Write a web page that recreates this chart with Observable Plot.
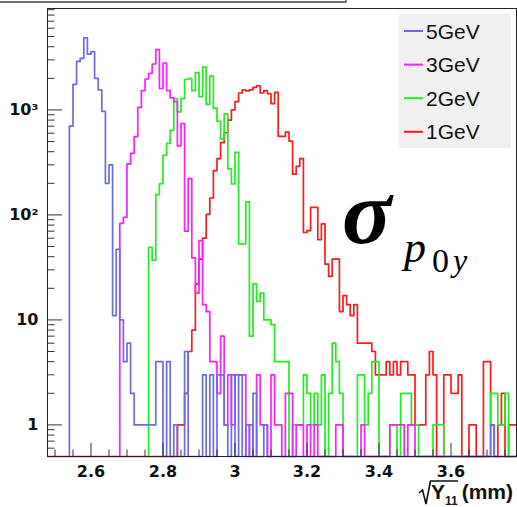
<!DOCTYPE html>
<html><head><meta charset="utf-8">
<script src="https://cdn.jsdelivr.net/npm/d3@7"></script>
<script src="https://cdn.jsdelivr.net/npm/@observablehq/plot@0.6"></script>
<style>body{margin:0;background:#fff}#chart{width:517px;height:507px}</style>
</head><body><div id="chart"></div>
<script>
// histogram binning (sqrt(Y11) in mm)
const binStart = 2.48, binWidth = 0.01, nBins = 130;
const xDomain = [2.4792, 3.7819];
const yDomain = [0.5, 9250];

const seriesNames = ["5GeV", "3GeV", "2GeV", "1GeV"];
const seriesColors = ["#6b6bea", "#ff1eff", "#1ef01e", "#ff1a1a"];

// 5GeV (first bin index 6)
const blueFirstBin = 6;
const blueCounts = [700,1750,2900,3100,4850,3400,3600,2000,1550,970,200,300,11,47,10,4,6,2,1,1,1,1,1,1,4,4,0,4,0,1,0,0,5,0,0,0,0,3,0,3,0,3,3,1,0,3,0,3,0,1,0,2,0,0,1,
 0,0,0,0,0,0,0,0,0,0,0,0,0,0,0,0,0,0,0,0,0,0,0,0,0,0,0,0,0,0,0,0,0,0,0,0,0,0,0,0,0,0,0,0,0,0,0,0,0,0,0,0,0,0,0,0,0,0,0,0,0,0,1];
// 3GeV (first bin index 20)
const magentaFirstBin = 20;
const magentaCounts = [83,95,306,386,557,1060,1530,1970,2230,2740,3750,1600,2800,1530,1300,1200,455,740,70,222,39,18,57,14,12,4,4,2,7,1,3,1,3,3,3,0,1,0,3,1,1,0,3,1,1,0,2,2,0,1,1,0,1,0,1,0,0,0,0,0,1,1,0,0,0,0,0,1,0,0,0,0,0,0,0,1,1,1,1,0,1,1];
// 2GeV (first bin index 28)
const greenFirstBin = 28;
const greenCounts = [49,37,156,198,370,480,640,1280,960,1280,1950,1990,1530,2270,1340,2560,1130,2100,1040,780,530,920,275,197,395,53,53,133,7,22,15,18,10,10,9,4,4,4,4,0,1,1,1,3,2,1,2,1,3,0,2,6,4,2,0,0,0,0,3,3,1,2,4,4,0,0,0,1,1,0,2,2,2,1,1,0,0,0,0,1,1,1,0,0,0,0,0,0,0,0,0,0,0,0,0,2,2,1,1,2];
// 1GeV (first bin index 36)
const redFirstBin = 36;
const redCounts = [1,1,2,5,8,22,38,60,101,145,264,344,488,606,800,1000,1200,1450,1550,1520,1550,1640,1700,1450,1530,1430,1150,1470,560,560,615,505,245,290,344,68,71,118,118,58,82,34,26,38,38,12,17,14,11,14,6,6,6,6,5,3,3,3,4,3,4,3,4,4,3,3,1,1,1,3,5,3,0,0,3,3,2,2,3,0,0,1,1,0,0,4,4,1,0,1,2,0,1,1];

const xMajorTicks = [2.6, 2.8, 3.0, 3.2, 3.4, 3.6];
const xMinorTicks = d3.range(2.5, 3.7801, 0.05).map(v => +v.toFixed(2)).filter(v => !xMajorTicks.some(m => Math.abs(m - v) < 1e-6));
const yMajorTicks = [1, 10, 100, 1000];
const yTickLabels = ["1", "10", "10\u00B2", "10\u00B3"];
const yMinorTicks = [0.6,0.7,0.8,0.9,2,3,4,5,6,7,8,9,20,30,40,50,60,70,80,90,200,300,400,500,600,700,800,900,2000,3000,4000,5000,6000,7000,8000,9000];

function histRows(first, counts, startAtZero) {
  const rows = [];
  const startBin = startAtZero ? 0 : first;
  if (!startAtZero) rows.push({x: binStart + first * binWidth, count: 0});
  let last = 0;
  for (let k = startBin; k < nBins; k++) {
    const c = k >= first && k - first < counts.length ? counts[k - first] : 0;
    rows.push({x: binStart + k * binWidth, count: c});
    last = c;
  }
  rows.push({x: binStart + nBins * binWidth, count: last});
  return rows;
}
const yFloor = yDomain[0];
const yVal = d => Math.max(d.count, yFloor);

const series = [
  {rows: histRows(redFirstBin, redCounts, true), color: seriesColors[3]},
  {rows: histRows(greenFirstBin, greenCounts, false), color: seriesColors[2]},
  {rows: histRows(magentaFirstBin, magentaCounts, false), color: seriesColors[1]},
  {rows: histRows(blueFirstBin, blueCounts, false), color: seriesColors[0]}
];

const W = 517, H = 507, mL = 47, mR = 1, mT = 8, mB = 51;
const fw = W - mL - mR, fh = H - mT - mB;
const tickFont = "DejaVu Sans";

const svg = Plot.plot({
  width: W, height: H,
  marginLeft: mL, marginRight: mR, marginTop: mT, marginBottom: mB,
  style: {background: "white", overflow: "visible"},
  x: {domain: xDomain, axis: null},
  y: {type: "log", domain: yDomain, axis: null},
  marks: [
    ...series.map(s => Plot.line(s.rows, {x: "x", y: yVal, curve: "step-after", stroke: s.color, strokeWidth: 1.7})),
    Plot.frame({stroke: "#222", strokeWidth: 1}),
    Plot.tickX(xMajorTicks, {x: d => d, insetTop: fh - 13, stroke: "#333"}),
    Plot.tickX(xMinorTicks, {x: d => d, insetTop: fh - 6.5, stroke: "#333"}),
    Plot.tickY(yMajorTicks, {y: d => d, insetRight: fw - 15, stroke: "#333"}),
    Plot.tickY(yMinorTicks, {y: d => d, insetRight: fw - 7.5, stroke: "#333"}),
    Plot.text(xMajorTicks, {x: d => d, text: d => d3.format("~g")(d), frameAnchor: "bottom", dy: 15, lineAnchor: "middle", fontSize: 16, fontWeight: "bold", fontFamily: tickFont, fill: "#111"}),
    Plot.text(yMajorTicks, {y: d => d, text: (d, i) => yTickLabels[i], frameAnchor: "left", dx: -9, textAnchor: "end", lineAnchor: "middle", fontSize: 16, fontWeight: "bold", fontFamily: tickFont, fill: "#111"})
  ]
});
document.getElementById("chart").append(svg);

const s = d3.select(svg);
// title box edge at top
s.append("path").attr("d", "M0,2H346V0").attr("fill", "none").attr("stroke", "#444").attr("stroke-width", 1.3);

// legend
const lg = s.append("g").attr("text-anchor", "start");
lg.append("rect").attr("x", 399).attr("y", 14).attr("width", 112).attr("height", 134).attr("fill", "#f0f0f0");
seriesNames.forEach((name, i) => {
  const cy = 31 + i * 33.6;
  lg.append("line").attr("x1", 404).attr("x2", 423).attr("y1", cy).attr("y2", cy).attr("stroke", seriesColors[i]).attr("stroke-width", 2);
  lg.append("text").attr("x", 426).attr("y", cy + 7.5).attr("font-family", "Liberation Sans").attr("font-size", 21).attr("fill", "#111").text(name);
});

// sigma label
const sg = s.append("g").attr("font-family", "Liberation Serif").attr("fill", "#000").attr("text-anchor", "start");
sg.append("text").attr("x", 342).attr("y", 243).attr("font-size", 92).attr("font-weight", "bold").attr("font-style", "italic").text("\u03C3");
sg.append("text").attr("x", 404).attr("y", 262).attr("font-size", 44).attr("font-style", "italic").text("p");
sg.append("text").attr("x", 432).attr("y", 272).attr("font-size", 34).text("0");
sg.append("text").attr("x", 453).attr("y", 271).attr("font-size", 32).attr("font-style", "italic").text("y");

// x-axis title: sqrt(Y11) (mm)
s.append("path").attr("d", "M419,493L422.5,490L426,504L430.5,481H458").attr("fill", "none").attr("stroke", "#111").attr("stroke-width", 1.6);
const xt = s.append("text").attr("text-anchor", "start").attr("x", 431).attr("y", 498.5).attr("font-family", "Liberation Sans").attr("font-weight", "bold").attr("font-size", 21).attr("fill", "#111");
xt.append("tspan").text("Y");
xt.append("tspan").attr("font-size", 12).attr("dy", 6).text("11");
xt.append("tspan").attr("dy", -6).attr("dx", 4).text("(mm)");
</script>
</body></html>
